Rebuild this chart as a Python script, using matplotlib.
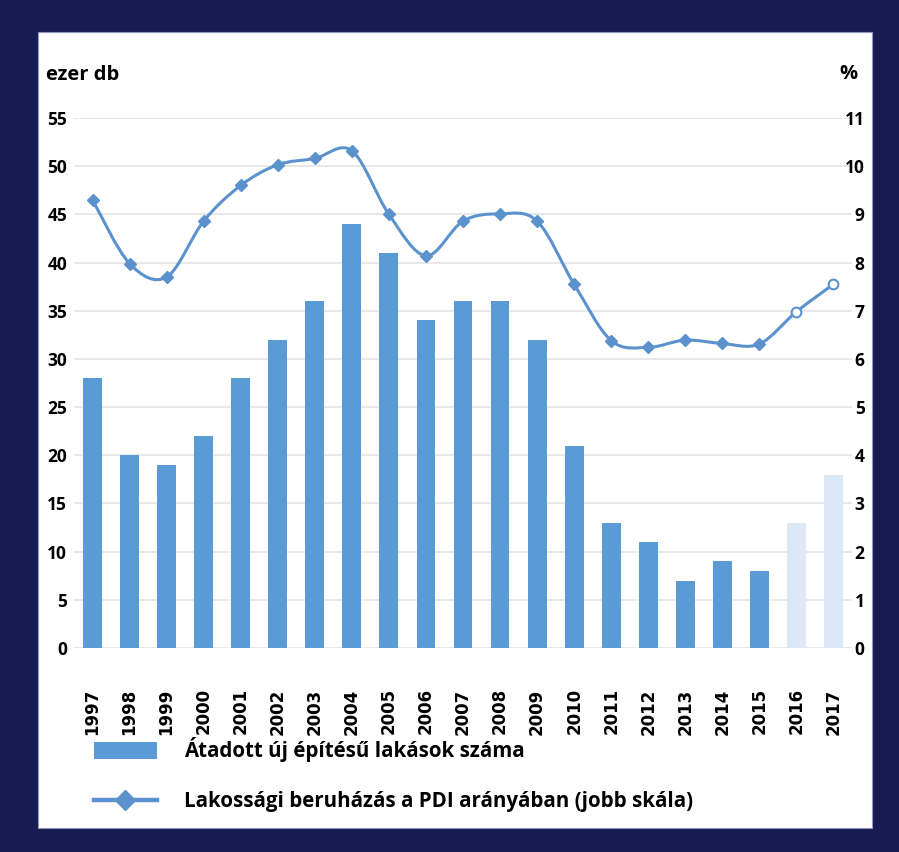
import matplotlib
matplotlib.use("Agg")
import matplotlib.pyplot as plt
from matplotlib.path import Path
from matplotlib.patches import PathPatch, Rectangle, Patch
from matplotlib.lines import Line2D

# data
years = [1997, 1998, 1999, 2000, 2001, 2002, 2003, 2004, 2005, 2006, 2007,
         2008, 2009, 2010, 2011, 2012, 2013, 2014, 2015, 2016, 2017]
dwellings = [28, 20, 19, 22, 28, 32, 36, 44, 41, 34, 36,
             36, 32, 21, 13, 11, 7, 9, 8, 13, 18]          # ezer db
invest_pct = [9.3, 7.98, 7.7, 8.86, 9.6, 10.03, 10.16, 10.32, 9.0, 8.14, 8.86,
              9.01, 8.86, 7.55, 6.38, 6.24, 6.39, 6.32, 6.31, 6.98, 7.55]  # % of GDP
n_actual = 19   # 2016 and 2017 are forecasts (light bars, open markers)

left_ticks = [0, 5, 10, 15, 20, 25, 30, 35, 40, 45, 50, 55]
right_ticks = [0, 1, 2, 3, 4, 5, 6, 7, 8, 9, 10, 11]

bar_label = "Átadott új építésű lakások száma"
line_label = "Lakossági beruházás a PDI arányában (jobb skála)"

NAVY = "#161C52"
BAR = "#5B9BD5"
BAR_LIGHT = "#DCE8F6"
LINE = "#5B92CE"
GRID = "#E4E4E4"

W, H = 899, 852
fig = plt.figure(figsize=(W / 100, H / 100), dpi=100)
fig.patch.set_facecolor(NAVY)

# white panel inside the navy frame
fig.patches.append(Rectangle((38 / W, 1 - 828 / H), 834 / W, 796 / H,
                             transform=fig.transFigure, facecolor="white",
                             edgecolor="#9098C0", linewidth=0.8, zorder=-5))

ax = fig.add_axes([74 / W, 1 - 648 / H, 778 / W, 530 / H])
ax.set_facecolor("none")
ax2 = ax.twinx()

x = list(range(len(years)))
colors = [BAR if i < n_actual else BAR_LIGHT for i in x]
bars = ax.bar(x, dwellings, width=0.51, color=colors, zorder=3, label=bar_label)

ax.set_xlim(-0.5, len(years) - 0.5)
ax.set_ylim(0, 55)
ax2.set_ylim(0, 11)
tick_font = {"family": "Open Sans", "weight": "bold", "size": 12.5}
ax.set_yticks(left_ticks)
ax.set_yticklabels([str(t) for t in left_ticks], fontdict=tick_font)
ax2.set_yticks(right_ticks)
ax2.set_yticklabels([str(t) for t in right_ticks], fontdict=tick_font, ha="right")
ax.set_xticks(x)
ax.set_xticklabels([str(y) for y in years], rotation=90,
                   fontfamily="DejaVu Sans", fontweight="bold", fontsize=12)
ax.yaxis.grid(True, color=GRID, linewidth=1.2, zorder=0)
ax.set_axisbelow(True)

for a in (ax, ax2):
    for s in a.spines.values():
        s.set_visible(False)
ax.tick_params(axis="x", length=0, pad=29)
ax.tick_params(axis="y", length=0, pad=5)
ax2.tick_params(axis="y", length=0, pad=9)

# smoothed line (Excel style bezier through the points)
pts = list(zip(x, invest_pct))
verts = [pts[0]]
codes = [Path.MOVETO]
for i in range(len(pts) - 1):
    p0 = pts[i - 1] if i > 0 else pts[i]
    p1 = pts[i]
    p2 = pts[i + 1]
    p3 = pts[i + 2] if i + 2 < len(pts) else pts[i + 1]
    c1 = (p1[0] + (p2[0] - p0[0]) / 6, p1[1] + (p2[1] - p0[1]) / 6)
    c2 = (p2[0] - (p3[0] - p1[0]) / 6, p2[1] - (p3[1] - p1[1]) / 6)
    verts += [c1, c2, p2]
    codes += [Path.CURVE4] * 3
ax2.add_patch(PathPatch(Path(verts, codes), facecolor="none", edgecolor=LINE,
                        linewidth=2.2, zorder=4, capstyle="round"))
ax2.plot(x[:n_actual], invest_pct[:n_actual], linestyle="none", marker="D",
         markersize=6.5, color=LINE, zorder=5)
ax2.plot(x[n_actual:], invest_pct[n_actual:], linestyle="none", marker="o",
         markersize=7, markerfacecolor="white", markeredgecolor=LINE,
         markeredgewidth=1.5, zorder=5)

# axis titles
fig.text(46 / W, 1 - 75 / H, "ezer db", fontfamily="Open Sans", fontweight="bold",
         fontsize=14.5, ha="left", va="center")
fig.text(857 / W, 1 - 74 / H, "%", fontfamily="Open Sans", fontweight="bold",
         fontsize=14.5, ha="right", va="center")

# legend
handles = [Patch(facecolor=BAR, edgecolor="none"),
           Line2D([], [], color=LINE, linewidth=3.2, marker="D", markersize=10)]
leg = fig.legend(handles, [bar_label, line_label], loc="upper left",
                 bbox_to_anchor=(75 / W, 1 - 719 / H), frameon=False,
                 prop={"family": "Open Sans", "weight": "bold", "size": 14.8},
                 handlelength=3.1, handleheight=0.85, handletextpad=1.3,
                 labelspacing=1.4, numpoints=1)

fig.savefig("out.png", dpi=100, facecolor=NAVY)
